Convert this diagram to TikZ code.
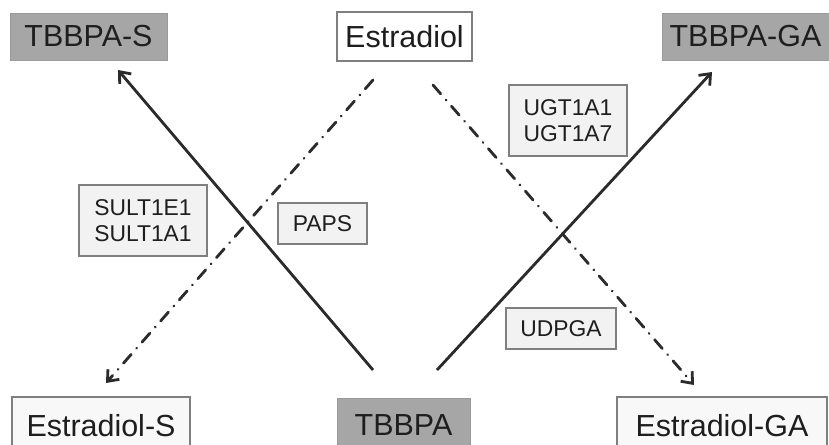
\documentclass[tikz,border=0pt]{standalone}
\usepackage{fontspec}
\setmainfont{Liberation Sans}
\usepackage{xcolor}
\usetikzlibrary{arrows.meta}
\definecolor{ink}{HTML}{1E1E1E}
\definecolor{dark}{HTML}{2B2B2B}
\definecolor{prodbg}{HTML}{A6A6A6}
\definecolor{prodline}{HTML}{9A9A9A}
\definecolor{boxbg}{HTML}{F2F2F2}
\definecolor{boxline}{HTML}{7F7F7F}
\tikzset{
  prod/.style={fill=prodbg, draw=prodline, line width=0.8pt, text=ink, font=\fontsize{26}{29}\selectfont, inner sep=0pt},
  subs/.style={fill=boxbg!50, draw=boxline, line width=1.3pt, text=ink, font=\fontsize{26}{29}\selectfont, inner sep=0pt},
  enz/.style={fill=boxbg, draw=boxline, line width=1.3pt, text=ink, font=\fontsize{19.5}{22}\selectfont, align=center, inner sep=0pt},
  conv/.style={draw=dark, line width=2.4pt, -{Straight Barb[length=8pt,width=13pt]}},
  dd/.style={conv, line cap=round, dash pattern=on 10pt off 7pt on 0.01pt off 7pt},
}

\begin{document}
\begin{tikzpicture}[x=0.03cm, y=-0.03cm]
  \useasboundingbox (0,0) rectangle (829,445);
  \clip (0,0) rectangle (829,445);
  % top row
  \node[prod, minimum width=157*0.03cm, minimum height=47*0.03cm] (tbbpas) at (88.5,36.5) {TBBPA-S};
  \node[subs, fill=white, minimum width=135*0.03cm, minimum height=49*0.03cm] (estr) at (404.5,36.5) {Estradiol};
  \node[prod, minimum width=167*0.03cm, minimum height=47*0.03cm] (tbbpaga) at (745.5,36.5) {TBBPA-GA};
  % bottom row
  \node[subs, minimum width=178*0.03cm, minimum height=57*0.03cm] (estrs) at (101,425.5) {Estradiol-S};
  \node[prod, minimum width=133*0.03cm, minimum height=55*0.03cm] (tbbpa) at (403.5,425.5) {TBBPA};
  \node[subs, minimum width=210*0.03cm, minimum height=57*0.03cm] (estrga) at (722,425.5) {Estradiol-GA};
  % enzymes and cofactors
  \node[enz, minimum width=128*0.03cm, minimum height=71*0.03cm] (sult) at (143,220.5) {SULT1E1\\SULT1A1};
  \node[enz, minimum width=89*0.03cm, minimum height=41*0.03cm] (paps) at (322.5,223.5) {PAPS};
  \node[enz, minimum width=118*0.03cm, minimum height=71*0.03cm] (ugt) at (568,120.5) {UGT1A1\\UGT1A7};
  \node[enz, minimum width=110*0.03cm, minimum height=41*0.03cm] (udpga) at (561,328.5) {UDPGA};
  % arrow ends
  \coordinate (t1) at (373,370);
  \coordinate (t2) at (437,370);
  \coordinate (e1) at (373,80);
  \coordinate (e2) at (433,85);
  \coordinate (ts) at (118,70);
  \coordinate (tg) at (712,72);
  \coordinate (es) at (106,383);
  \coordinate (eg) at (694,385);
  \draw[conv] (t1) -- (ts);
  \draw[conv] (t2) -- (tg);
  \draw[dd] (e1) -- (es);
  \draw[dd] (e2) -- (eg);
\end{tikzpicture}
\end{document}
